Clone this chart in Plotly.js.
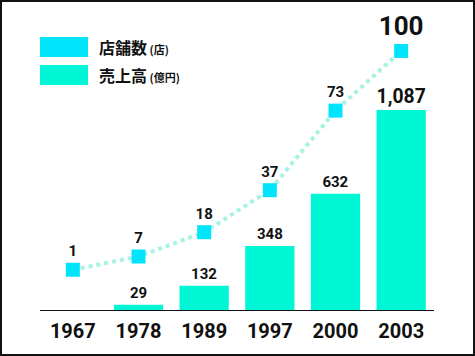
<!DOCTYPE html>
<html><head><meta charset="utf-8">
<script src="https://cdn.plot.ly/plotly-3.0.1.min.js"></script>
<style>
html,body{margin:0;padding:0;background:#fff;}
#wrap{position:relative;width:475px;height:356px;}
#chart{width:475px;height:356px;}
#frame{position:absolute;left:0;top:0;width:475px;height:356px;box-sizing:border-box;border:2px solid #111;pointer-events:none;}
</style></head>
<body>
<div id="wrap"><div id="chart"></div><div id="frame"></div></div>
<script>
const years = ['1967','1978','1989','1997','2000','2003'];
const sales = [null, 29, 132, 348, 632, 1087];      // 売上高(億円)
const stores = [1, 7, 18, 37, 73, 100];              // 店舗数(店)
const salesLabels = ['', '29', '132', '348', '632', '1,087'];
const storeLabels = ['1', '7', '18', '37', '73', '100'];

const numFont = 'Roboto, "Noto Sans", sans-serif';
const cjkFont = '"Noto Sans CJK JP", "Noto Sans", sans-serif';

const barTrace = {
  type: 'bar', x: years, y: sales,
  marker: {color: '#00F7D6'},
  text: salesLabels, textposition: 'outside',
  textfont: {family: numFont, color: '#111', weight: 700, size: [15,15,15,15,15,26]},
  cliponaxis: false, hoverinfo: 'skip', showlegend: false
};
const lineTrace = {
  type: 'scatter', mode: 'lines+markers+text', x: years, y: stores, yaxis: 'y2',
  line: {color: '#A6F3E4', width: 4, dash: 'dot'},
  marker: {symbol: 'square', size: 14, color: '#00E4FC'},
  text: storeLabels, textposition: 'top center',
  textfont: {family: numFont, color: '#111', weight: 700, size: [15,15,15,15,15,26]},
  cliponaxis: false, hoverinfo: 'skip', showlegend: false
};

const W = 394, H = 290;
const layout = {
  width: 475, height: 356,
  margin: {l: 40, r: 41, t: 20, b: 46},
  paper_bgcolor: '#fff', plot_bgcolor: '#fff',
  bargap: 0.25, showlegend: false,
  xaxis: {type: 'category', showline: true, linecolor: '#111', linewidth: 1,
          ticks: '', showgrid: false, zeroline: false, ticklabelstandoff: 3,
          tickfont: {family: numFont, size: 20, color: '#111', weight: 700}},
  yaxis: {range: [0, 1576], visible: false, showgrid: false, zeroline: false},
  yaxis2: {range: [-17.2, 114], overlaying: 'y', visible: false, showgrid: false, zeroline: false},
  shapes: [
    {type: 'rect', xref: 'paper', yref: 'paper', x0: 0, x1: 48/W, y0: (310-57)/H, y1: (310-37)/H,
     fillcolor: '#00E4FC', line: {width: 0}},
    {type: 'rect', xref: 'paper', yref: 'paper', x0: 0, x1: 48/W, y0: (310-85)/H, y1: (310-65)/H,
     fillcolor: '#00F7D6', line: {width: 0}}
  ],
  annotations: [
    {xref: 'paper', yref: 'paper', x: 57/W, y: (310-47)/H, xanchor: 'left', yanchor: 'middle',
     showarrow: false, text: '店舗数<span style="font-size:11px"> (店)</span>',
     font: {family: cjkFont, size: 16, color: '#111', weight: 700}},
    {xref: 'paper', yref: 'paper', x: 57/W, y: (310-75)/H, xanchor: 'left', yanchor: 'middle',
     showarrow: false, text: '売上高<span style="font-size:11px"> (億円)</span>',
     font: {family: cjkFont, size: 16, color: '#111', weight: 700}}
  ]
};
Plotly.newPlot('chart', [barTrace, lineTrace], layout, {displayModeBar: false, staticPlot: true});
</script>
</body></html>
